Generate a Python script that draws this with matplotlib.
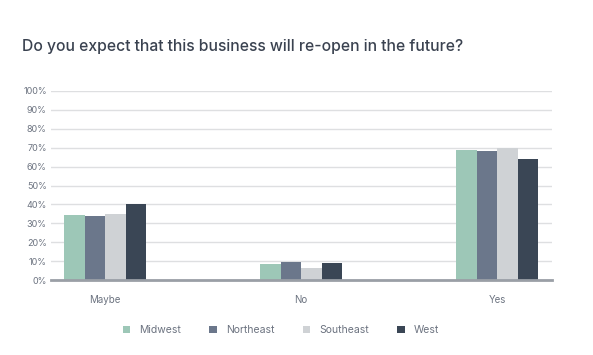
import matplotlib
matplotlib.use("Agg")
import matplotlib.pyplot as plt
from matplotlib.patches import Patch
import numpy as np

categories = ["Maybe", "No", "Yes"]
series_names = ["Midwest", "Northeast", "Southeast", "West"]
midwest = [34.5, 8.5, 69]
northeast = [34, 9.5, 68]
southeast = [35, 6.5, 70]
west = [40, 9, 64]
yticks = [0, 10, 20, 30, 40, 50, 60, 70, 80, 90, 100]
ytick_labels = [f"{v}%" for v in yticks]

colors = ["#9dc7b7", "#6b778b", "#cfd2d5", "#3a4655"]
values = [midwest, northeast, southeast, west]

plt.rcParams['font.family'] = ['Inter', 'DejaVu Sans']

fig = plt.figure(figsize=(5.93, 3.55), dpi=100)
ax = fig.add_axes([51/593, 1-280/355, 501/593, 189/355])

x = np.arange(len(categories))
w = 0.105
for i, (vals, c, name) in enumerate(zip(values, colors, series_names)):
    ax.bar(x + (i - 1.5) * w, vals, width=w, color=c, label=name, zorder=3)

ax.set_xlim(-0.276, 2.28)
ax.set_ylim(0, 100)
ax.set_yticks(yticks)
ax.set_yticklabels(ytick_labels)
ax.yaxis.grid(True, color="#dedfe1", linewidth=1, zorder=0)
ax.set_xticks(x)
ax.set_xticklabels(categories)
for s in ["top", "right", "left"]:
    ax.spines[s].set_visible(False)
ax.spines["bottom"].set_color("#9a9fa6")
ax.spines["bottom"].set_linewidth(2)
ax.spines["bottom"].set_zorder(4)
ax.tick_params(axis="y", length=0, pad=3, labelsize=6.5, labelcolor="#6c7380")
ax.tick_params(axis="x", length=0, pad=11, labelsize=7, labelcolor="#6c7380")

fig.text(22/593, 1-47/355, "Do you expect that this business will re-open in the future?",
         fontsize=11.3, fontweight="medium", color="#3a4250", va="center", ha="left")

handles = [Patch(facecolor=c, edgecolor='none') for c in colors]
fig.legend(handles, series_names, loc="center", bbox_to_anchor=(281/593, 1-330/355),
           ncol=4, frameon=False, handlelength=0.7, handleheight=0.7,
           handletextpad=0.9, columnspacing=2.7, fontsize=7.5,
           labelcolor="#6c7380")

fig.savefig("out.png", dpi=100)
